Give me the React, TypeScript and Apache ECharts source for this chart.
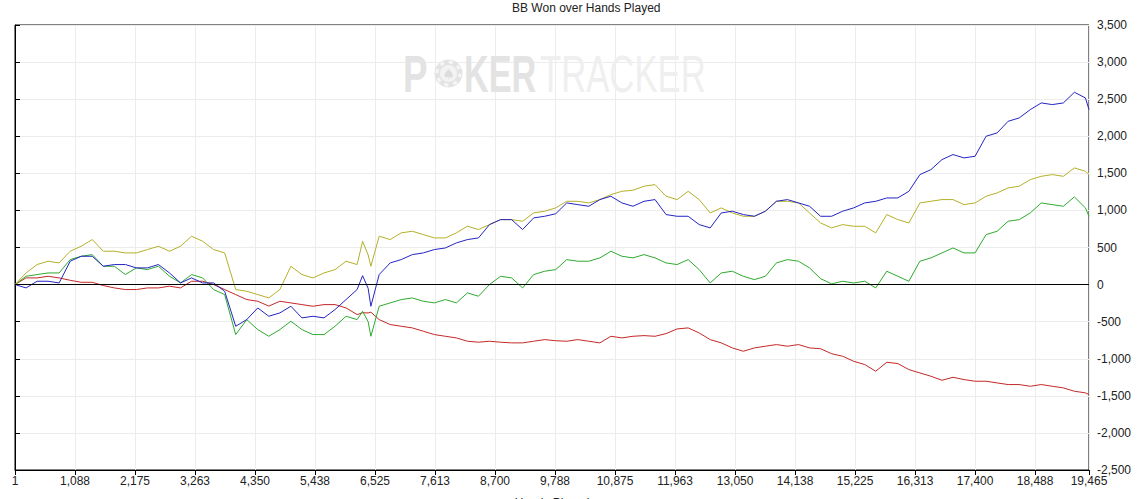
import React, { useEffect, useRef } from 'react';
import * as echarts from 'echarts';

// Hands played at each sample
const hands = [
  0, 200, 400, 600, 800, 1000, 1200, 1400, 1600, 1800,
  2000, 2200, 2400, 2600, 2800, 3000, 3200, 3400, 3600, 3800,
  4000, 4200, 4400, 4600, 4800, 5000, 5200, 5400, 5600, 5800,
  6000, 6200, 6300, 6400, 6450, 6600, 6800, 7000, 7200, 7400, 7600, 7800,
  8000, 8200, 8400, 8600, 8800, 9000, 9200, 9400, 9600, 9800,
  10000, 10200, 10400, 10600, 10800, 11000, 11200, 11400, 11600, 11800,
  12000, 12200, 12400, 12600, 12800, 13000, 13200, 13400, 13600, 13800,
  14000, 14200, 14400, 14600, 14800, 15000, 15200, 15400, 15600, 15800,
  16000, 16200, 16400, 16600, 16800, 17000, 17200, 17400, 17600, 17800,
  18000, 18200, 18400, 18600, 18800, 19000, 19200, 19400, 19465,
];

// BB won (blue line)
const bbBlue = [
  0, -45, 45, 45, 22, 315, 382, 382, 247, 270,
  270, 225, 225, 270, 157, 22, 90, 22, 22, -90,
  -562, -472, -315, -427, -382, -292, -449, -427, -449, -337,
  -202, -67, 120, -50, -292, 135, 292, 337, 404, 427, 472, 494,
  562, 607, 629, 809, 876, 876, 742, 899, 921, 955,
  1101, 1078, 1056, 1146, 1191, 1101, 1056, 1123, 1146, 944,
  921, 921, 809, 764, 966, 989, 944, 921, 989, 1123,
  1146, 1101, 1056, 921, 921, 989, 1034, 1101, 1123, 1168,
  1168, 1258, 1483, 1550, 1685, 1753, 1708, 1730, 2000, 2045,
  2202, 2247, 2359, 2449, 2427, 2449, 2593, 2517, 2359,
];

// Olive line
const bbOlive = [
  0, 157, 270, 315, 292, 450, 517, 607, 450, 450,
  427, 427, 472, 517, 450, 517, 652, 585, 472, 427,
  -67, -90, -135, -180, -67, 247, 135, 90, 157, 202,
  315, 270, 584, 400, 247, 652, 607, 697, 719, 674, 629, 629,
  697, 787, 742, 809, 876, 876, 854, 966, 989, 1034,
  1123, 1123, 1101, 1146, 1213, 1258, 1272, 1326, 1348, 1191,
  1146, 1258, 1146, 966, 1034, 966, 921, 921, 989, 1123,
  1123, 1101, 966, 831, 764, 809, 786, 786, 697, 944,
  876, 831, 1101, 1123, 1146, 1146, 1078, 1101, 1191, 1236,
  1303, 1326, 1415, 1460, 1483, 1460, 1573, 1528, 1480,
];

// Green line
const bbGreen = [
  0, 112, 135, 157, 157, 337, 382, 404, 247, 247,
  135, 225, 202, 247, 112, 22, 135, 90, -67, -135,
  -674, -472, -607, -697, -607, -494, -607, -674, -674, -562,
  -427, -472, -360, -500, -697, -292, -247, -202, -180, -225, -247, -202,
  -247, -112, -157, 0, 112, 90, -45, 135, 180, 202,
  337, 315, 315, 360, 449, 382, 360, 404, 360, 292,
  270, 337, 202, 22, 157, 180, 112, 67, 112, 292,
  337, 315, 225, 80, 10, 45, 22, 45, -45, 180,
  112, 45, 315, 360, 427, 494, 427, 427, 674, 719,
  854, 876, 966, 1101, 1078, 1056, 1182, 1034, 921,
];

// Red line
const bbRed = [
  0, 90, 90, 112, 90, 58, 31, 31, -13, -45,
  -67, -67, -45, -45, -22, -45, 45, 45, 0, -67,
  -135, -202, -225, -290, -225, -247, -270, -292, -270, -270,
  -315, -404, -380, -382, -372, -472, -539, -562, -584, -629, -674, -697,
  -719, -764, -777, -764, -777, -786, -786, -764, -742, -757,
  -764, -742, -764, -786, -697, -719, -697, -688, -697, -661,
  -598, -584, -652, -742, -786, -854, -899, -854, -831, -809,
  -831, -809, -854, -865, -932, -966, -1034, -1078, -1168, -1047,
  -1065, -1146, -1191, -1236, -1290, -1250, -1281, -1303, -1303, -1326,
  -1348, -1348, -1371, -1348, -1371, -1393, -1438, -1460, -1483,
];

const titleText = 'BB Won over Hands Played';
const xName = 'Hands Played';

const FONT = '"Liberation Sans", Arial, sans-serif';

function pairs(vals: number[]) {
  return hands.map((h, i) => [h, vals[i]]);
}

function lineSeries(name: string, vals: number[], color: string, extra: any = {}) {
  return {
    name,
    type: 'line',
    data: pairs(vals),
    showSymbol: false,
    symbol: 'none',
    lineStyle: { color, width: 1 },
    itemStyle: { color },
    z: 3,
    ...extra,
  };
}

export default function App() {
  const ref = useRef<HTMLDivElement>(null);
  useEffect(() => {
    document.body.style.margin = '0';
    const chart = echarts.init(ref.current!, null, { renderer: 'svg' });
    const option: any = {
      animation: false,
      backgroundColor: '#ffffff',
      title: {
        text: titleText,
        left: 512,
        top: 2,
        padding: 0,
        textStyle: { fontSize: 12, fontWeight: 'normal', color: '#222', fontFamily: FONT },
      },
      grid: {
        left: 15,
        right: 48,
        top: 25,
        bottom: 29,
        show: true,
        borderColor: '#000',
        borderWidth: 1,
        backgroundColor: '#fff',
        containLabel: false,
        outerBoundsMode: 'none',
      },
      graphic: [
        {
          type: 'text', x: 403, y: 74, scaleX: 0.72, z: 1, silent: true,
          style: { text: 'P', fontSize: 51, fontWeight: 'bold', fontFamily: FONT, fill: '#e3e3e3', textVerticalAlign: 'middle' },
        },
        {
          type: 'group', x: 448.5, y: 73.5, z: 1, silent: true,
          children: [
            { type: 'circle', shape: { cx: 0, cy: 0, r: 14 }, style: { fill: '#e3e3e3' }, z: 1 },
            { type: 'circle', shape: { cx: 0, cy: 0, r: 11.5 }, style: { fill: 'none', stroke: '#f6f6f6', lineWidth: 3, lineDash: [4, 5] }, z: 1 },
            { type: 'circle', shape: { cx: 0, cy: 0, r: 8.5 }, style: { fill: '#f3f3f3' }, z: 1 },
            { type: 'text', x: 0, y: 0, z: 1, style: { text: '♠', fontSize: 14, fontFamily: '"DejaVu Sans", sans-serif', fill: '#dcdcdc', textAlign: 'center', textVerticalAlign: 'middle' } },
          ],
        },
        {
          type: 'text', x: 464, y: 74, scaleX: 0.67, z: 1, silent: true,
          style: { text: 'KER', fontSize: 51, fontWeight: 'bold', fontFamily: FONT, fill: '#e3e3e3', textVerticalAlign: 'middle' },
        },
        {
          type: 'text', x: 540, y: 74, scaleX: 0.68, z: 1, silent: true,
          style: { text: 'TRACKER', fontSize: 51, fontWeight: 'normal', fontFamily: FONT, fill: '#efefef', textVerticalAlign: 'middle' },
        },
      ],
      xAxis: {
        type: 'value',
        min: 0,
        max: 19465,
        interval: 1087.5,
        name: xName,
        nameLocation: 'middle',
        nameGap: 27,
        nameTextStyle: { fontSize: 12, color: '#222', fontFamily: FONT },
        axisLine: { show: true, onZero: false, lineStyle: { color: '#000', width: 1 } },
        axisTick: { show: true, length: 5, lineStyle: { color: '#000' } },
        axisLabel: {
          margin: 5,
          fontSize: 12,
          color: '#222',
          fontFamily: FONT,
          showMinLabel: true,
          showMaxLabel: true,
          formatter: (v: number) => (v === 0 ? '1' : Math.round(v).toLocaleString('en-US')),
        },
        splitLine: { show: true, lineStyle: { color: '#ececec', width: 1 } },
      },
      yAxis: {
        type: 'value',
        position: 'right',
        min: -2500,
        max: 3500,
        interval: 500,
        axisLine: { show: true, lineStyle: { color: '#000', width: 1 } },
        axisTick: { show: true, length: 5, lineStyle: { color: '#000' } },
        axisLabel: {
          margin: 8,
          fontSize: 12,
          color: '#222',
          fontFamily: FONT,
          formatter: (v: number) => v.toLocaleString('en-US'),
        },
        splitLine: { show: true, lineStyle: { color: '#ececec', width: 1 } },
      },
      series: [
        lineSeries('Red', bbRed, '#c42828'),
        lineSeries('Green', bbGreen, '#2eaa2e'),
        lineSeries('Olive', bbOlive, '#b4b02a'),
        lineSeries('Blue', bbBlue, '#2424c4', {
          markLine: {
            silent: true,
            symbol: ['none', 'none'],
            label: { show: false },
            lineStyle: { color: '#000', width: 1, type: 'solid' },
            data: [{ yAxis: 0 }],
          },
        }),
      ],
    };
    chart.setOption(option);
    return () => chart.dispose();
  }, []);
  return <div ref={ref} style={{ width: 1137, height: 499 }} />;
}
